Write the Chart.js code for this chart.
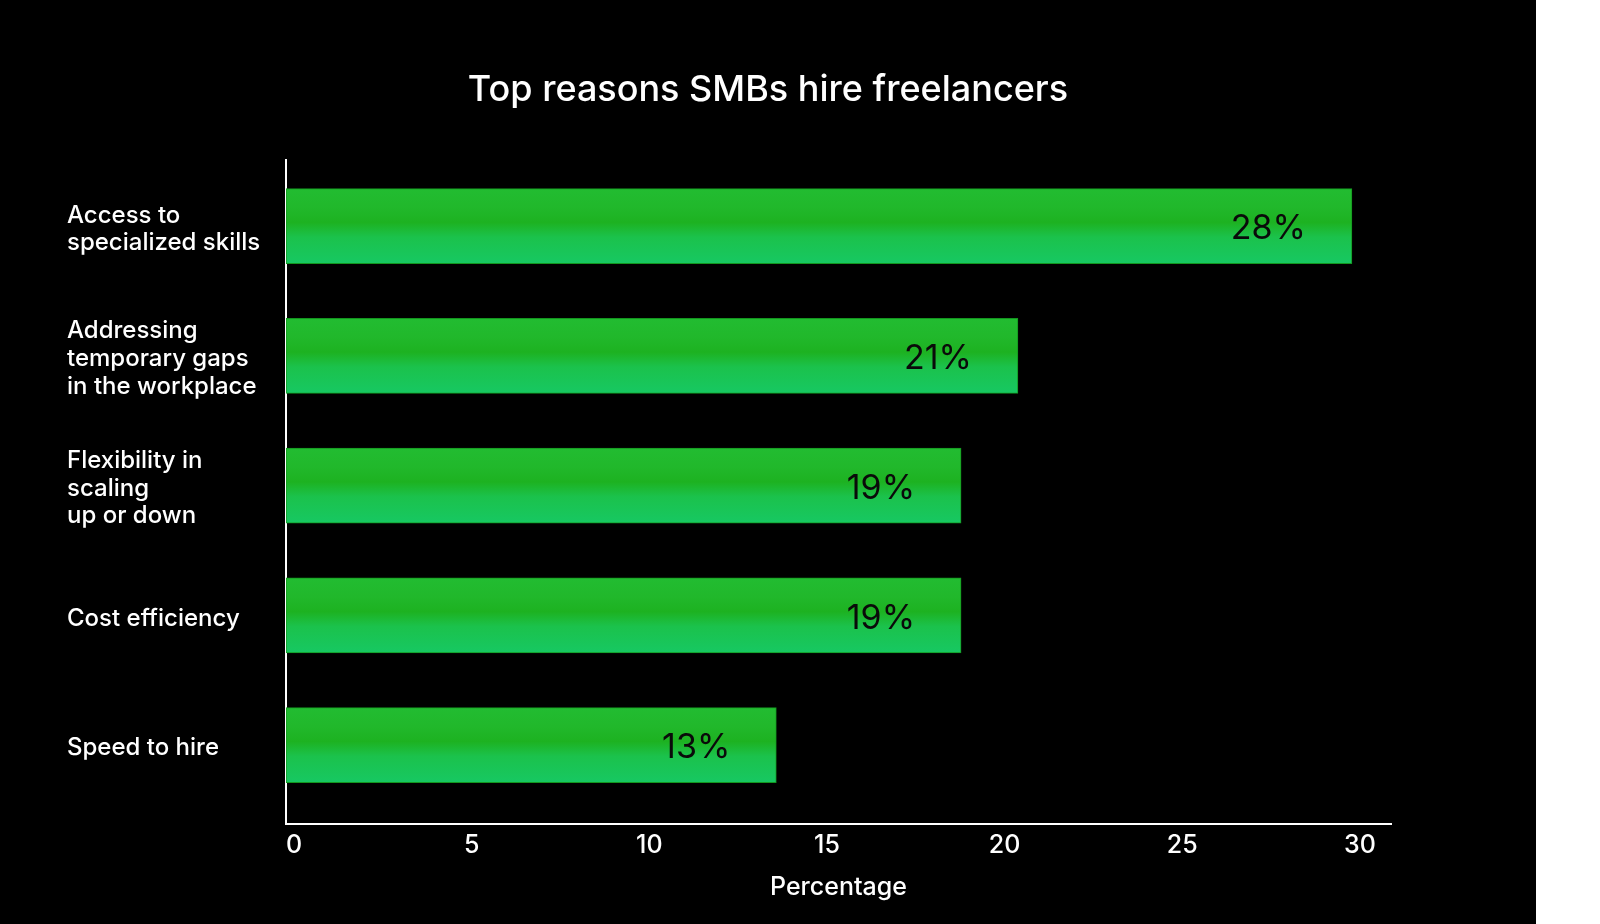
<!DOCTYPE html>
<html>
<head>
<meta charset="utf-8">
<title>Top reasons SMBs hire freelancers</title>
<script src="https://cdn.jsdelivr.net/npm/chart.js@4"></script>
<style>
  html, body { margin: 0; background: #fff; }
  .wrap { width: 1536px; height: 924px; background: #000; }
</style>
</head>
<body>
<div class="wrap"><canvas id="reasonsChart"></canvas></div>
<script>
const categories = [
  ["Access to", "specialized skills"],
  ["Addressing", "temporary gaps", "in the workplace"],
  ["Flexibility in", "scaling", "up or down"],
  ["Cost efficiency"],
  ["Speed to hire"]
];
// bar ends as they sit against the x axis in the picture
const barLengths = [30, 20.6, 19, 19, 13.8];
// the printed labels on the bars
const valueLabels = ["28%", "21%", "19%", "19%", "13%"];
const xTicks = [0, 5, 10, 15, 20, 25, 30];

const FONT = "Inter, 'Liberation Sans', sans-serif";

const barFill = (c) => {
  const chart = c.chart;
  const y = chart.scales && chart.scales.y;
  if (!y || !chart.chartArea) return "#1ec043";
  const mid = y.getPixelForValue(c.dataIndex);
  const g = chart.ctx.createLinearGradient(0, mid - 37, 0, mid + 37);
  g.addColorStop(0, "#22bc31");
  g.addColorStop(0.25, "#21b82b");
  g.addColorStop(0.45, "#1db221");
  g.addColorStop(0.65, "#1bc24c");
  g.addColorStop(1, "#17c862");
  return g;
};

const barText = {
  id: "barText",
  afterDatasetsDraw(chart) {
    const ctx = chart.ctx;
    const meta = chart.getDatasetMeta(0);
    ctx.save();
    ctx.font = "34px " + FONT;
    ctx.fillStyle = "#0a0a0a";
    ctx.textAlign = "right";
    ctx.textBaseline = "middle";
    meta.data.forEach((bar, i) => {
      ctx.fillText(valueLabels[i], bar.x - 46, bar.y + 3);
    });
    ctx.restore();
  }
};

const ctx = document.getElementById("reasonsChart").getContext("2d");
const chart = new Chart(ctx, {
  type: "bar",
  data: {
    datasets: [
      {
        data: barLengths.map((v, i) => ({ x: v, y: i })),
        backgroundColor: barFill,
        borderColor: "#13961f",
        borderWidth: 1,
        borderSkipped: false,
        barThickness: 75
      }
    ]
  },
  options: {
    indexAxis: "y",
    responsive: true,
    maintainAspectRatio: false,
    animation: false,
    layout: {
      padding: { left: 67, right: 67, top: 0, bottom: 22 }
    },
    plugins: {
      legend: { display: false },
      tooltip: { enabled: false },
      title: {
        display: true,
        text: "Top reasons SMBs hire freelancers",
        color: "#ffffff",
        font: { family: FONT, size: 36, weight: "500" },
        padding: { top: 69, bottom: 48 }
      }
    },
    scales: {
      x: {
        type: "linear",
        min: 0,
        max: 31.1,
        afterBuildTicks: (scale) => {
          scale.ticks = xTicks.map((v) => ({ value: v }));
        },
        grid: { display: false, drawTicks: false },
        border: { display: true, color: "#ffffff", width: 2 },
        ticks: {
          color: "#ffffff",
          padding: 6,
          labelOffset: 8,
          font: { family: FONT, size: 25, weight: "500" }
        },
        title: {
          display: true,
          text: "Percentage",
          color: "#ffffff",
          font: { family: FONT, size: 25, weight: "500" },
          padding: { top: 6, bottom: 0 }
        }
      },
      y: {
        type: "linear",
        reverse: true,
        offset: false,
        min: -0.508,
        max: 4.608,
        afterBuildTicks: (scale) => {
          scale.ticks = categories.map((c, i) => ({ value: i }));
        },
        afterFit: (scale) => {
          scale.width = 219;
        },
        grid: { display: false, drawTicks: false },
        border: { display: true, color: "#ffffff", width: 2 },
        ticks: {
          color: "#ffffff",
          crossAlign: "far",
          labelOffset: 3,
          font: { family: FONT, size: 24, weight: "500", lineHeight: 1.15 },
          callback: (v) => categories[v] || ""
        }
      },
      // empty strip on the right so the title centres on the black panel
      spacer: {
        type: "linear",
        position: "right",
        afterFit: (scale) => {
          scale.width = 78;
        },
        grid: { display: false, drawTicks: false },
        border: { display: false },
        ticks: { display: false }
      }
    }
  },
  plugins: [barText]
});
</script>
</body>
</html>
